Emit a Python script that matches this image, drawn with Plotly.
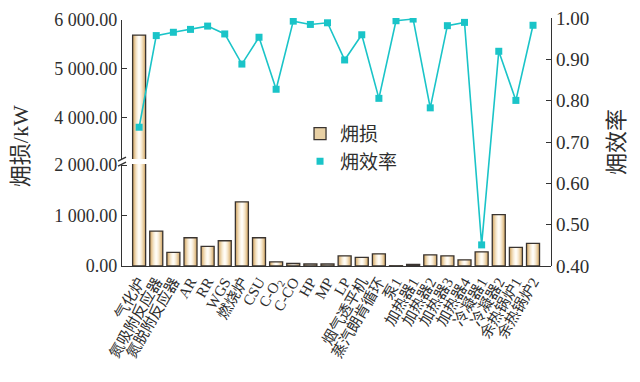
import plotly.graph_objects as go

categories = ["气化炉", "氮吸附反应器", "氮脱附反应器", "AR", "RR", "WGS", "燃烧炉", "CSU",
              "C-O<sub>2</sub>", "C-CO", "HP", "MP", "LP", "烟气透平机", "蒸汽朗肯循环", "泵1",
              "加热器1", "加热器2", "加热器3", "加热器4", "冷凝器1", "冷凝器2", "余热锅炉1", "余热锅炉2"]
exergy_loss = [5690, 690, 270, 560, 390, 500, 1270, 560, 80, 50, 40, 40, 200, 170, 240, 5,
               30, 220, 200, 120, 280, 1020, 370, 450]
efficiency = [0.736, 0.958, 0.966, 0.973, 0.981, 0.962, 0.889, 0.954, 0.828, 0.993, 0.985, 0.989,
              0.899, 0.960, 0.806, 0.994, 0.998, 0.783, 0.982, 0.990, 0.451, 0.920, 0.801, 0.983]
left_low_ticks = [0, 1000, 2000]
left_high_ticks = [4000, 5000, 6000]
right_ticks = [0.40, 0.50, 0.60, 0.70, 0.80, 0.90, 1.00]

FONT = "Liberation Serif, Noto Sans CJK SC, serif"
TXT = "#2e2e2e"
AX = "#333333"
LINE_C = "rgb(26,196,200)"


def fmt_thousands(v):
    s = f"{v:,.2f}"
    return s.replace(",", " ")


fig = go.Figure()

# gradient-like bars via layered overlays
layers = [(0.76, "#d2a868"), (0.68, "#dbb77f"), (0.58, "#e5c797"), (0.48, "#eed8b3"),
          (0.36, "#f6e8cf"), (0.24, "#fbf3e4"), (0.12, "#fffcf5")]
for ax in ["y", "y2"]:
    for w, c in layers:
        fig.add_trace(go.Bar(x=categories, y=exergy_loss, width=w, yaxis=ax,
                             marker=dict(color=c, line=dict(width=0)),
                             showlegend=False, hoverinfo="skip"))
    fig.add_trace(go.Bar(x=categories, y=exergy_loss, width=0.76, yaxis=ax,
                         marker=dict(color="rgba(0,0,0,0)", line=dict(color="#3a3430", width=1.3)),
                         showlegend=False))

# legend proxy for bars
fig.add_trace(go.Bar(x=[categories[0]], y=[None], name="㶲损", yaxis="y",
                     marker=dict(color="#e8d0a4", line=dict(color="#3a3430", width=1.3))))

fig.add_trace(go.Scatter(x=categories, y=efficiency, yaxis="y3", mode="lines+markers",
                         line=dict(color=LINE_C, width=1.6),
                         marker=dict(symbol="square", size=7, color=LINE_C),
                         showlegend=False))
fig.add_trace(go.Scatter(x=[categories[0]], y=[None], yaxis="y3", mode="markers", name="㶲效率",
                         marker=dict(symbol="square", size=7, color=LINE_C)))

tickfont = dict(family=FONT, size=18, color=TXT)

# page body has an 8px margin, so the figure is laid out 8px smaller and offset
fig.update_layout(
    width=632, height=374,
    margin=dict(l=114, r=89, t=10, b=116, autoexpand=False),
    paper_bgcolor="white", plot_bgcolor="rgba(0,0,0,0)",
    barmode="overlay",
    font=dict(family=FONT, color=TXT),
    xaxis=dict(type="category", range=[-1.0, 24.05], showline=True, linecolor=AX, linewidth=1.3,
               ticks="", tickangle=-60, tickfont=dict(family=FONT, size=15, color=TXT),
               tickmode="array", tickvals=categories, ticktext=categories,
               anchor="y", showgrid=False, zeroline=False, automargin=False,
               ticklabeloverflow="allow"),
    yaxis=dict(domain=[0, 0.411], range=[0, 2020], tickvals=left_low_ticks,
               ticktext=[fmt_thousands(v) for v in left_low_ticks], tickfont=tickfont,
               showline=True, linecolor=AX, linewidth=1.3, ticks="inside", ticklen=5,
               tickcolor=AX, showgrid=False, zeroline=False, anchor="x", automargin=False,
               ticklabeloverflow="allow"),
    yaxis2=dict(domain=[0.431, 0.992], range=[3157, 6001], tickvals=left_high_ticks,
                ticktext=[fmt_thousands(v) for v in left_high_ticks], tickfont=tickfont,
                showline=True, linecolor=AX, linewidth=1.3, ticks="inside", ticklen=5,
                tickcolor=AX, showgrid=False, zeroline=False, anchor="x", automargin=False,
                ticklabeloverflow="allow"),
    yaxis3=dict(domain=[0, 1], range=[0.3999, 1.0006], side="right", anchor="x",
                tickvals=right_ticks, ticktext=[f"{v:.2f}" for v in right_ticks],
                tickfont=dict(family=FONT, size=19, color=TXT),
                showline=True, linecolor=AX, linewidth=1.3, ticks="inside", ticklen=5,
                tickcolor=AX, showgrid=False, zeroline=False, automargin=False,
                ticklabeloverflow="allow",
                title=dict(text="㶲效率", font=dict(family=FONT, size=22, color=TXT), standoff=20)),
    legend=dict(x=0.415, y=0.61, xanchor="left", yanchor="top", bgcolor="rgba(0,0,0,0)",
                font=dict(family=FONT, size=19, color=TXT), tracegroupgap=0, itemwidth=30),
    showlegend=True,
)

# left axis title
fig.add_annotation(text="㶲损/kW", xref="paper", yref="paper", x=-0.235, y=0.484,
                   textangle=-90, showarrow=False, font=dict(family=FONT, size=22, color=TXT),
                   xanchor="center", yanchor="middle")

# axis break marks
px = 1 / 429
py = 1 / 248
for yb in [0.411, 0.431]:
    fig.add_shape(type="line", xref="paper", yref="paper",
                  x0=-4 * px, y0=yb - 2 * py, x1=4 * px, y1=yb + 2 * py,
                  line=dict(color=AX, width=1.3))

fig.write_html("out.html")
